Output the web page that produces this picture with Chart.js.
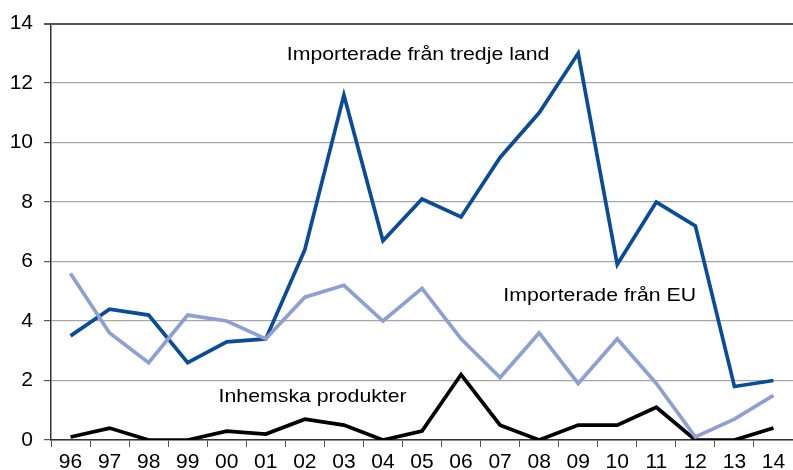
<!DOCTYPE html>
<html lang="sv">
<head>
    <meta charset="UTF-8">
    <script src="https://cdn.jsdelivr.net/npm/chart.js"></script>
    <title>Importerade och inhemska</title>
    <style>
        html, body { margin: 0; padding: 0; background: #fff; }
        #wrap { width: 793px; height: 470px; }
    </style>
</head>
<body>
    <div id="wrap"><canvas id="chart"></canvas></div>
    <script>
        const years = ['96', '97', '98', '99', '00', '01', '02', '03', '04', '05',
                       '06', '07', '08', '09', '10', '11', '12', '13', '14'];
        const tredjeLand = [3.5, 4.4, 4.2, 2.6, 3.3, 3.4, 6.4, 11.6, 6.7, 8.1,
                            7.5, 9.5, 11.0, 13.0, 5.9, 8.0, 7.2, 1.8, 2.0];
        const fromEU = [5.6, 3.6, 2.6, 4.2, 4.0, 3.4, 4.8, 5.2, 4.0, 5.1,
                        3.4, 2.1, 3.6, 1.9, 3.4, 1.9, 0.1, 0.7, 1.5];
        const inhemska = [0.1, 0.4, 0, 0, 0.3, 0.2, 0.7, 0.5, 0, 0.3,
                          2.2, 0.5, 0, 0.5, 0.5, 1.1, 0, 0, 0.4];

        // text labels placed in data space (category index, y value)
        const seriesNames = ['Importerade från tredje land', 'Importerade från EU', 'Inhemska produkter'];
        const nameAtX = [8.9, 13.55, 6.2];
        const nameAtY = [12.95, 4.85, 1.45];

        const lineLabels = {
            id: 'lineLabels',
            afterDatasetsDraw(chart) {
                const { ctx, scales } = chart;
                ctx.font = '19px "Liberation Sans", Arial, sans-serif';
                ctx.fillStyle = '#000';
                ctx.textAlign = 'center';
                ctx.textBaseline = 'middle';
                seriesNames.forEach((t, i) => {
                    const x = scales.x.getPixelForValue(nameAtX[i]);
                    const y = scales.y.getPixelForValue(nameAtY[i]);
                    // reference text is a bit wider than plain Arial
                    ctx.save();
                    ctx.translate(x, y);
                    ctx.scale(1.12, 1);
                    ctx.fillText(t, 0, 0);
                    ctx.restore();
                });
            }
        };

        const font = { family: '"Liberation Sans", Arial, sans-serif', size: 21 };

        new Chart(document.getElementById('chart'), {
            type: 'line',
            data: {
                labels: years,
                datasets: [{
                    label: seriesNames[1],
                    data: fromEU,
                    borderColor: '#8f9fd0',
                    borderWidth: 3.7
                }, {
                    label: seriesNames[0],
                    data: tredjeLand,
                    borderColor: '#0a4c97',
                    borderWidth: 3.7
                }, {
                    label: seriesNames[2],
                    data: inhemska,
                    borderColor: '#000000',
                    borderWidth: 3.7
                }]
            },
            options: {
                responsive: true,
                maintainAspectRatio: false,
                animation: false,
                layout: { padding: { top: 20, right: 0, left: 0, bottom: 0 } },
                elements: {
                    point: { radius: 0 },
                    line: { tension: 0, borderJoinStyle: 'miter', borderCapStyle: 'butt' }
                },
                plugins: {
                    legend: { display: false },
                    tooltip: { enabled: false }
                },
                scales: {
                    x: {
                        offset: true,
                        grid: { offset: true, drawOnChartArea: false, tickLength: 7, color: '#555', lineWidth: 1 },
                        border: { color: '#333', width: 1.5 },
                        ticks: { font: font, color: '#000', padding: 3, maxRotation: 0, autoSkip: false },
                        afterFit(scale) { scale.height = 30; }
                    },
                    y: {
                        min: 0,
                        max: 14,
                        ticks: { stepSize: 2, font: font, color: '#000', padding: 11 },
                        grid: {
                            color: ctx => ctx.tick && ctx.tick.value === 14 ? '#555' : '#a6a6a6',
                            lineWidth: ctx => ctx.tick && ctx.tick.value === 14 ? 2 : 1.2,
                            tickLength: 7,
                            tickColor: '#555'
                        },
                        border: { color: '#333', width: 1.5 },
                        afterFit(scale) { scale.width = 51; }
                    }
                }
            },
            plugins: [lineLabels]
        });
    </script>
</body>
</html>
